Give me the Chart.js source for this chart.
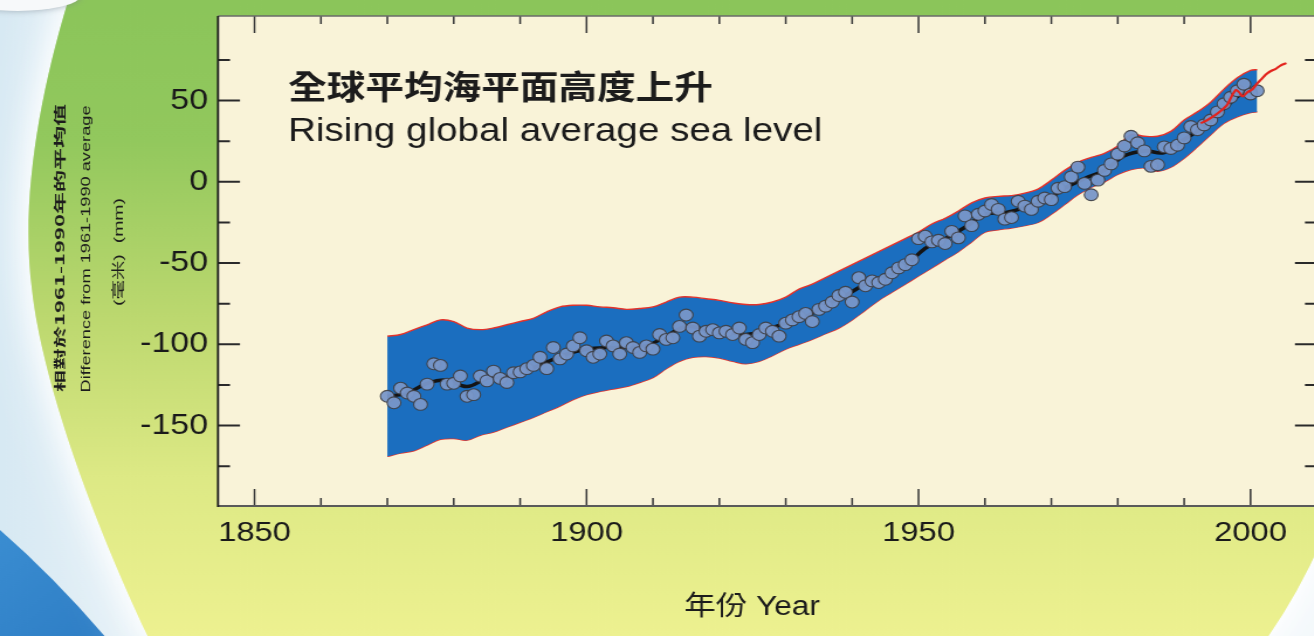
<!DOCTYPE html>
<html>
<head>
<meta charset="utf-8">
<script src="https://cdn.jsdelivr.net/npm/chart.js@4.4.1/dist/chart.umd.min.js"></script>
<style>
  html, body { margin: 0; padding: 0; width: 1314px; height: 636px; overflow: hidden; background: #fff; }
  /* the drawing surface is laid out narrower and widened by CSS */
  #wrap { position: absolute; left: 0; top: 0; width: 1135px; height: 636px; transform: scaleX(1.17); transform-origin: 0 0; }
  canvas { display: block; }
</style>
</head>
<body>
<div id="wrap"><canvas id="c" width="1135" height="636"></canvas></div>
<script>
// Horizontal widening applied to the canvas by CSS
const S = 1.17;

// Uncertainty band around the smoothed tide-gauge record (mm)
const bandYears = [1870,1872,1874,1876,1878,1880,1882,1884,1886,1888,
                   1890,1892,1894,1896,1898,1900,1902,1904,1906,1908,
                   1910,1912,1914,1916,1918,1920,1922,1924,1926,1928,
                   1930,1932,1934,1936,1938,1940,1942,1944,1946,1948,
                   1950,1952,1954,1956,1958,1960,1962,1964,1966,1968,
                   1970,1972,1974,1976,1978,1980,1982,1984,1986,1988,
                   1990,1992,1994,1996,1998,2000,2001];
const bandUpper = [-95,-94,-91,-88,-85,-86,-90,-91,-90,-88,
                   -86,-84,-80,-77,-76,-76,-77,-77.5,-78.5,-78,
                   -77,-74,-71,-71,-72,-73,-74.5,-75.5,-75.5,-74,
                   -71,-66,-63,-59,-55,-51,-47,-43,-39,-35,
                   -31,-26,-22.5,-18,-13,-10,-9,-8.5,-7,-4.5,
                   1,7,12,15,17.5,22,29,28,28,31,
                   38,43,49,57,64,68.5,69];
const bandLower = [-169,-167,-165.5,-162,-158.5,-158,-159,-156,-154,-151,
                   -148,-145,-141.5,-138,-134,-131,-129,-127.5,-126,-123.5,
                   -120.5,-115,-110.5,-108,-107.5,-108.5,-110.5,-112,-110.5,-107,
                   -103,-100,-97,-93.5,-90,-85,-79,-73,-68,-63,
                   -58,-53,-48,-43,-37,-31,-29.5,-28.5,-27,-25,
                   -20,-14,-8,-3.5,0,4.5,7.5,8.5,6.5,9,
                   14.5,21.5,29,36,40,42.5,43];

// Smoothed (decadal) sea level curve
const smoothYears = [1870,1873,1876,1879,1882,1885,1888,1891,1894,1897,
                     1900,1903,1906,1909,1912,1915,1918,1921,1924,1927,
                     1930,1933,1936,1939,1942,1945,1948,1951,1954,1957,
                     1960,1963,1966,1969,1972,1975,1978,1981,1984,1987,
                     1990,1993,1996,1999,2001];
const smoothLevel = [-132,-130,-124,-122,-126,-121,-120,-116,-111,-106,
                     -103,-102,-102,-101,-95,-89,-91,-92,-94,-91,
                     -87,-83,-76,-70,-63,-59,-52,-41,-35,-28,
                     -20,-19,-16,-12,-4,2,7,16,19,18,
                     26,34,45,55,56];

// Annual mean sea level (mm)
const annualYears = [1870,1871,1872,1873,1874,1875,1876,1877,1878,1879,
                     1880,1881,1882,1883,1884,1885,1886,1887,1888,1889,
                     1890,1891,1892,1893,1894,1895,1896,1897,1898,1899,
                     1900,1901,1902,1903,1904,1905,1906,1907,1908,1909,
                     1910,1911,1912,1913,1914,1915,1916,1917,1918,1919,
                     1920,1921,1922,1923,1924,1925,1926,1927,1928,1929,
                     1930,1931,1932,1933,1934,1935,1936,1937,1938,1939,
                     1940,1941,1942,1943,1944,1945,1946,1947,1948,1949,
                     1950,1951,1952,1953,1954,1955,1956,1957,1958,1959,
                     1960,1961,1962,1963,1964,1965,1966,1967,1968,1969,
                     1970,1971,1972,1973,1974,1975,1976,1977,1978,1979,
                     1980,1981,1982,1983,1984,1985,1986,1987,1988,1989,
                     1990,1991,1992,1993,1994,1995,1996,1997,1998,1999,
                     2000,2001];
const annualLevel = [-132,-136,-127,-130,-132,-137,-124.5,-112,-113,-124.5,
                     -124,-119.5,-132,-131,-119.5,-122.5,-116.5,-121,-123.5,-117.5,
                     -117,-115,-113,-108,-115,-102,-109,-106,-101,-96,
                     -104,-108,-106,-98,-101,-106,-99,-102,-105,-101,
                     -103,-94,-97,-96,-89,-82,-90,-95,-92,-91,
                     -93,-92,-94,-90,-97,-99,-94,-90,-92,-95,
                     -87,-85,-83,-81,-86,-78.5,-76.5,-74,-70,-68,
                     -74,-59,-64,-61,-62,-60,-56,-53,-51,-48,
                     -35,-33.5,-37,-36,-38,-30.5,-34.5,-21,-27,-20,
                     -18,-14,-17,-23,-22,-12,-15,-17,-12,-10,
                     -11,-4,-3,3,9,-1,-8,1,7,11,
                     17,22,28,24,19,9.5,10.5,21.5,20.5,22.5,
                     27,34,32,35,38,43,48,52,56,60,
                     54,56];

// Satellite altimetry record (mm)
const satelliteYears = [1992.5,1993.5,1994.5,1995.5,1996.5,1997.2,1997.8,1998.3,1998.8,
                        1999.5,2000.3,2001,2001.6,2002.3,2003,2003.8,2004.5,2005.4];
const satelliteLevel = [36,38,40.5,43.5,47.5,53,56.5,55,52.5,
                        55,57,60.5,63,66,68,69.5,71.5,73];

// Axis labels and tick marks
const xLabelYears = [1850, 1900, 1950, 2000];
const yLabelValues = [-150, -100, -50, 0, 50];
const xTickYears = [1850,1860,1870,1880,1890,1900,1910,1920,1930,1940,1950,1960,1970,1980,1990,2000];
const yTickValues = [-175,-150,-125,-100,-75,-50,-25,0,25,50,75];

const titleZh = '全球平均海平面高度上升';
const titleEn = 'Rising global average sea level';
const xTitle = '年份 Year';
const yTitleLines = ['相對於1961-1990年的平均值', 'Difference from 1961-1990 average', '(毫米)  (mm)'];

const pts = (xs, ys) => xs.map((x, i) => ({ x, y: ys[i] }));

// Decorative page background: green disc with white glow, pale sky and a blue swoosh
const backdrop = {
  id: 'backdrop',
  beforeDraw(chart) {
    const { ctx, width, height, chartArea: a } = chart;
    ctx.save();
    ctx.scale(1 / S, 1);
    const W = width * S;
    let g = ctx.createLinearGradient(0, 0, 260, 0);
    g.addColorStop(0, '#d7e9f3');
    g.addColorStop(1, '#f3f8fb');
    ctx.fillStyle = g;
    ctx.fillRect(0, 0, W, height);

    // blue swoosh in the lower left corner
    ctx.beginPath();
    ctx.moveTo(0, 530);
    ctx.quadraticCurveTo(55, 578, 108, 640);
    ctx.lineTo(0, 640);
    ctx.closePath();
    g = ctx.createLinearGradient(0, 520, 80, 640);
    g.addColorStop(0, '#3b8ed2');
    g.addColorStop(1, '#2f7fc6');
    ctx.fillStyle = g;
    ctx.fill();

    // green disc
    ctx.beginPath();
    ctx.moveTo(72, -12);
    ctx.bezierCurveTo(40, 90, 20, 200, 32, 290);
    ctx.bezierCurveTo(42, 380, 92, 520, 152, 645);
    ctx.lineTo(1262, 645);
    ctx.quadraticCurveTo(1295, 600, 1322, 540);
    ctx.lineTo(1400, 300);
    ctx.lineTo(1400, -12);
    ctx.closePath();
    g = ctx.createLinearGradient(0, 0, 0, height);
    g.addColorStop(0, '#8bc55a');
    g.addColorStop(0.22, '#92c85d');
    g.addColorStop(0.5, '#bcd86f');
    g.addColorStop(0.75, '#dde985');
    g.addColorStop(1, '#edf190');
    ctx.shadowColor = 'rgba(255,255,255,1)';
    ctx.shadowBlur = 45;
    ctx.fillStyle = g;
    ctx.fill();
    ctx.shadowBlur = 25;
    ctx.fill();
    ctx.shadowBlur = 0;

    // small white bubble at the top left corner
    ctx.beginPath();
    ctx.ellipse(18, -4, 62, 15, 0, 0, Math.PI * 2);
    ctx.shadowColor = 'rgba(120,130,140,0.6)';
    ctx.shadowBlur = 6;
    ctx.fillStyle = '#f7f9fa';
    ctx.fill();
    ctx.restore();

    // plot area
    ctx.save();
    ctx.fillStyle = '#f9f3d8';
    ctx.fillRect(a.left, a.top, a.right - a.left, a.bottom - a.top);
    ctx.restore();
  }
};

function drawRotated(ctx, text, cx, cy, font, length) {
  ctx.save();
  ctx.translate(cx, cy);
  ctx.rotate(-Math.PI / 2);
  ctx.font = font;
  const w = ctx.measureText(text).width;
  ctx.scale(length / w, 1);
  ctx.textAlign = 'center';
  ctx.textBaseline = 'middle';
  ctx.fillText(text, 0, 0);
  ctx.restore();
}

// Frame, inward tick marks and titles
const frame = {
  id: 'frame',
  afterDraw(chart) {
    const { ctx, chartArea: a, scales: { x, y } } = chart;
    ctx.save();
    ctx.lineCap = 'butt';
    // inward x ticks on bottom and top
    ctx.strokeStyle = '#3a3a3a';
    ctx.lineWidth = 1.8 / S;
    xTickYears.forEach(v => {
      const px = x.getPixelForValue(v);
      const len = v % 50 === 0 ? 17 : 8;
      ctx.beginPath();
      ctx.moveTo(px, a.bottom); ctx.lineTo(px, a.bottom - len);
      ctx.moveTo(px, a.top); ctx.lineTo(px, a.top + len);
      ctx.stroke();
    });
    // inward y ticks on left and right
    ctx.strokeStyle = '#2a2a2a';
    ctx.lineWidth = 2;
    yTickValues.forEach(v => {
      const py = y.getPixelForValue(v);
      const len = (v % 50 === 0 ? 22 : 12) / S;
      ctx.beginPath();
      ctx.moveTo(a.left, py); ctx.lineTo(a.left + len, py);
      ctx.moveTo(a.right, py); ctx.lineTo(a.right - len, py);
      ctx.stroke();
    });
    // axis lines
    ctx.strokeStyle = '#6a6a6a';
    ctx.lineWidth = 1.6;
    ctx.beginPath(); ctx.moveTo(a.left, a.top); ctx.lineTo(a.right, a.top); ctx.stroke();
    ctx.strokeStyle = '#5a5a5a';
    ctx.lineWidth = 2.2;
    ctx.beginPath(); ctx.moveTo(a.left, a.bottom); ctx.lineTo(a.right, a.bottom); ctx.stroke();
    ctx.strokeStyle = '#1e1e1e';
    ctx.lineWidth = 2.2 / S;
    ctx.beginPath(); ctx.moveTo(a.left, a.top); ctx.lineTo(a.left, a.bottom + 1); ctx.stroke();

    // chart titles
    ctx.fillStyle = '#1c1c1c';
    ctx.textAlign = 'left';
    ctx.textBaseline = 'middle';
    ctx.font = 'bold 33px "Noto Sans CJK TC"';
    ctx.fillText(titleZh, 288 / S, 86);
    ctx.textBaseline = 'alphabetic';
    ctx.font = '33px "Liberation Sans", Arial, sans-serif';
    ctx.fillText(titleEn, 288 / S, 141);

    // x-axis title
    ctx.textAlign = 'center';
    ctx.textBaseline = 'middle';
    ctx.font = '27px "Liberation Sans", "Noto Sans CJK TC", sans-serif';
    ctx.fillText(xTitle, 752 / S, 608);

    // y-axis title, three rotated lines
    drawRotated(ctx, yTitleLines[0], 60 / S, 248, 'bold 10px "Noto Sans CJK TC"', 288);
    drawRotated(ctx, yTitleLines[1], 86 / S, 249, '11px "Liberation Sans", Arial, sans-serif', 287);
    drawRotated(ctx, yTitleLines[2], 119 / S, 252, '11px "Liberation Sans", "Noto Sans CJK TC", sans-serif', 108);
    ctx.restore();
  }
};

// keep the plot area fixed: no extra room reserved for edge labels
const noEdgePadding = s => { s.paddingTop = 0; s.paddingBottom = 0; s.paddingLeft = 0; s.paddingRight = 0; };

new Chart(document.getElementById('c'), {
  type: 'line',
  data: {
    datasets: [
      {
        label: 'lower', data: pts(bandYears, bandLower),
        borderColor: '#e4322a', borderWidth: 1.4, pointRadius: 0, tension: 0.35,
        fill: false, order: 4
      },
      {
        label: 'upper', data: pts(bandYears, bandUpper),
        borderColor: '#e4322a', borderWidth: 1.4, pointRadius: 0, tension: 0.35,
        fill: '-1', backgroundColor: '#1b6ebf', order: 3
      },
      {
        label: 'smoothed', data: pts(smoothYears, smoothLevel),
        borderColor: '#141414', borderWidth: 3.5, pointRadius: 0, tension: 0.4,
        fill: false, order: 2
      },
      {
        label: 'annual', data: pts(annualYears, annualLevel),
        showLine: false, pointRadius: 5.9, pointBorderWidth: 1.1,
        pointBackgroundColor: 'rgba(120,150,200,0.95)', pointBorderColor: 'rgba(62,62,66,0.9)',
        fill: false, order: 1
      },
      {
        label: 'satellite', data: pts(satelliteYears, satelliteLevel),
        borderColor: '#e3231d', borderWidth: 2.2, pointRadius: 0, tension: 0.25,
        fill: false, order: 0
      }
    ]
  },
  options: {
    responsive: false,
    animation: false,
    events: [],
    layout: { padding: { top: 16, right: 9.4, left: 0, bottom: 0 } },
    plugins: { legend: { display: false }, tooltip: { enabled: false } },
    scales: {
      x: {
        type: 'linear', min: 1844.5, max: 2010,
        afterBuildTicks: s => { s.ticks = xLabelYears.map(v => ({ value: v })); },
        afterFit: s => { s.height = 130; noEdgePadding(s); },
        grid: { display: false, drawTicks: false },
        border: { display: false },
        ticks: {
          autoSkip: false, maxRotation: 0, padding: 10,
          color: '#1a1a1a',
          font: { family: '"Liberation Sans", Arial, sans-serif', size: 28 },
          callback: v => String(v)
        }
      },
      y: {
        type: 'linear', min: -199.5, max: 102,
        afterBuildTicks: s => { s.ticks = yLabelValues.map(v => ({ value: v })); },
        afterFit: s => { s.width = 218 / S; noEdgePadding(s); },
        grid: { display: false, drawTicks: false },
        border: { display: false },
        ticks: {
          padding: 8.5,
          color: '#1a1a1a',
          font: { family: '"Liberation Sans", Arial, sans-serif', size: 29 },
          callback: v => String(v)
        }
      }
    }
  },
  plugins: [backdrop, frame]
});
</script>
</body>
</html>
